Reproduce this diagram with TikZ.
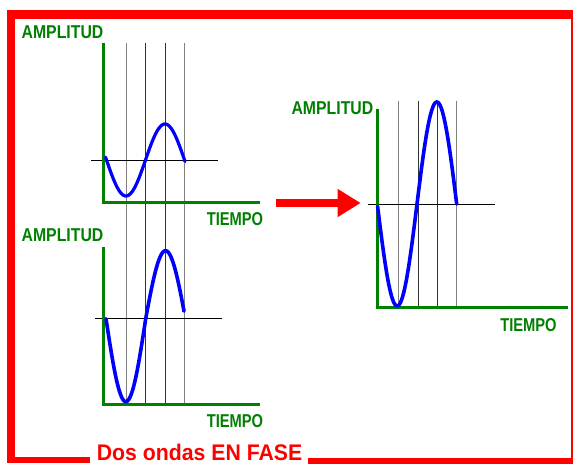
\documentclass[tikz,border=0pt]{standalone}
\usepackage{fontspec}
\usepackage{graphicx}
\usetikzlibrary{arrows.meta}
\newfontfamily\labfont{Liberation Sans}
\definecolor{axgreen}{RGB}{0,128,0}
\definecolor{frred}{RGB}{255,0,0}
\definecolor{wblue}{RGB}{0,0,255}
\tikzset{
  lbl/.style={text=axgreen, font=\labfont\bfseries\fontsize{18.6}{20}\selectfont, inner sep=0pt, anchor=base},
  axisline/.style={draw=axgreen, line width=3pt, line join=miter},
  gridout/.style={draw=black!50, line width=1pt},
  gridin/.style={draw=black!80, line width=0.9pt},
  zeroline/.style={draw=black, line width=0.9pt},
  wave/.style={draw=wblue, line width=3.6pt, line cap=round},
  frame/.style={fill=frred},
}
\begin{document}
\begin{tikzpicture}[x=1pt, y=-1pt]
\useasboundingbox[fill=white] (0,0) rectangle (573,464);
% frame
\fill[frame] (7,10) rectangle (15,463);
\fill[frame] (7,10) rectangle (573,19);
\fill[frame] (571,10) rectangle (572.6,460);
\fill[frame] (7,457) rectangle (90,463);
\fill[frame] (308,457.5) rectangle (573,464);
\node[anchor=base west, inner sep=0pt, text=frred, font=\labfont\bfseries\fontsize{22.6}{24}\selectfont] (title) at (96.7,460.6) {\scalebox{0.94}[1]{Dos ondas EN FASE}};

% left grid lines
\foreach \gx/\st in {126.7/gridout,145.7/gridin,165.7/gridin,184/gridout}
  \draw[\st] (\gx,43) -- (\gx,404);
% zero lines
\draw[zeroline] (91,160) -- (217.7,160);
\draw[zeroline] (95,318.7) -- (221.7,318.7);
% axes left
\draw[axisline] (103.3,43) -- (103.3,202) -- (260,202);
\draw[axisline] (103.3,247) -- (103.3,404) -- (260,404);
% waves left
\draw[wave, line width=3.2pt] plot[domain=105.5:185, samples=70, smooth] (\x, {160 + 36*sin((\x-106.5)/78*360)});
\draw[wave] plot[domain=106:145.7, samples=40, smooth] (\x, {318.7 + 83*sin((\x-106)/79.4*360)})
  -- plot[domain=145.7:184, samples=40, smooth] (\x, {318.7 + 68*sin((\x-106)/79.4*360)});

% right graph
\foreach \gx/\st in {398.3/gridout,418.3/gridin,437.3/gridin,456.7/gridout}
  \draw[\st] (\gx,100.7) -- (\gx,306);
\draw[zeroline] (367.7,204) -- (495,204);
\draw[axisline] (377.3,109.3) -- (377.3,307.7) -- (567.7,307.7);
\draw[wave] plot[domain=377.6:456.7, samples=80, smooth] (\x, {204 + 102*sin((\x-377.3)/79.4*360)});

% labels
\node[lbl] (amp1) at (62.5,38.3) {\scalebox{0.85}[1]{AMPLITUD}};
\node[lbl] (tie1) at (235,225.7) {\scalebox{0.79}[1]{TIEMPO}};
\node[lbl] (amp2) at (62.5,241) {\scalebox{0.85}[1]{AMPLITUD}};
\node[lbl] (tie2) at (235,427) {\scalebox{0.79}[1]{TIEMPO}};
\node[lbl] (amp3) at (332.4,114.5) {\scalebox{0.85}[1]{AMPLITUD}};
\node[lbl] (tie3) at (528.5,331) {\scalebox{0.79}[1]{TIEMPO}};

% arrow
\coordinate (a0) at (276,203);
\coordinate (a1) at (360.7,203);
\draw[draw=frred, line width=7.5pt, -{Triangle[length=23pt, width=26.5pt, fill=frred]}] (a0) -- (a1);
\end{tikzpicture}
\end{document}
